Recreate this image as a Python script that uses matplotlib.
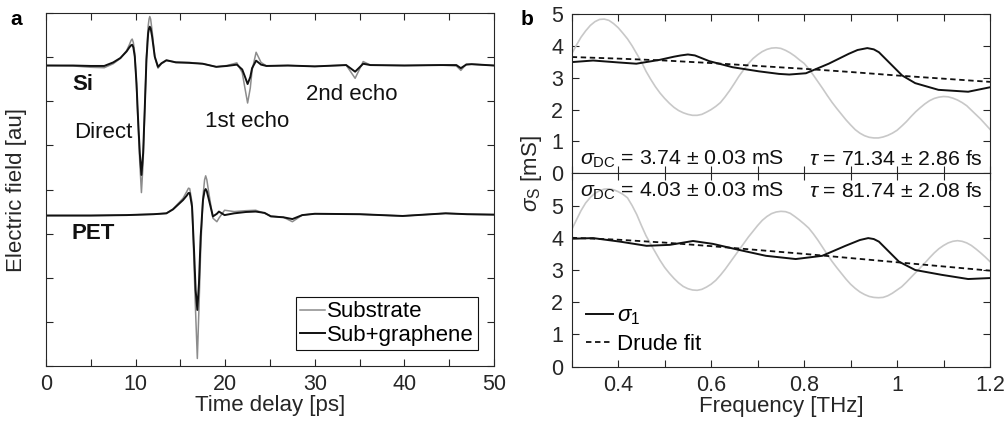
import numpy as np
import matplotlib
matplotlib.use('Agg')
import matplotlib.pyplot as plt

plt.rcParams['font.family'] = ['Liberation Sans', 'DejaVu Sans']
plt.rcParams['mathtext.fontset'] = 'custom'
plt.rcParams['mathtext.rm'] = 'Liberation Sans'
plt.rcParams['mathtext.it'] = 'Liberation Sans:italic'
plt.rcParams['font.size'] = 16
tc = '#262626'

# ---- panel a: time traces (au, stacked) ----
t_si = [0, 3, 5, 6.5, 7.5, 8.3, 9.0, 9.3, 9.5, 9.62, 9.75, 9.91, 10.1, 10.28, 10.47, 10.65, 10.84,
        11.03, 11.21, 11.4, 11.5, 11.58, 11.68, 11.84, 12.14, 12.5, 12.88, 13.44, 14.5, 16, 17.5,
        19.0, 20.2, 21.3, 21.9, 22.2, 22.5, 22.8, 23.0, 23.45, 24.0, 24.6, 27, 30, 33.5, 34.5,
        35.4, 36.2, 40, 44, 45.8, 46.3, 46.9, 47.5, 50]
si_sub = [6.81, 6.80, 6.77, 6.76, 6.85, 6.97, 7.15, 7.28, 7.38, 7.41, 7.33, 7.08, 6.35, 5.45, 4.60,
          3.93, 4.60, 5.85, 7.00, 7.70, 7.86, 7.92, 7.86, 7.60, 7.00, 6.75, 6.85, 6.92, 6.89,
          6.88, 6.85, 6.78, 6.81, 6.87, 6.65, 6.30, 5.96, 6.30, 6.70, 7.11, 6.88, 6.80, 6.81,
          6.79, 6.82, 6.52, 6.90, 6.82, 6.81, 6.82, 6.80, 6.70, 6.84, 6.84, 6.81]
si_gr = [6.81, 6.81, 6.80, 6.80, 6.88, 6.98, 7.13, 7.22, 7.27, 7.28, 7.22, 7.01, 6.41, 5.58, 4.82,
         4.33, 4.82, 5.88, 6.94, 7.54, 7.65, 7.69, 7.65, 7.47, 7.01, 6.78, 6.86, 6.93, 6.88,
         6.87, 6.85, 6.78, 6.80, 6.83, 6.72, 6.56, 6.39, 6.55, 6.75, 6.92, 6.83, 6.80, 6.81,
         6.79, 6.82, 6.67, 6.85, 6.82, 6.81, 6.82, 6.82, 6.75, 6.83, 6.84, 6.81]

t_pet = [0, 5, 9, 12, 13.44, 14.18, 15.29, 15.7, 15.9, 16.04, 16.3, 16.52, 16.7, 16.89, 17.07,
         17.26, 17.52, 17.7, 17.82, 17.95, 18.19, 18.63, 19.07, 19.3, 19.93, 21, 22.3, 23.4,
         24.4, 25.1, 26.5, 27.5, 28.6, 30, 35, 39.8, 44.6, 47, 50]
pet_sub = [3.41, 3.41, 3.42, 3.44, 3.46, 3.56, 3.80, 3.95, 4.03, 4.02, 3.70, 2.30, 1.20, 0.17,
           1.30, 2.60, 3.85, 4.22, 4.31, 4.22, 3.90, 3.35, 3.27, 3.35, 3.53, 3.50, 3.52, 3.53,
           3.46, 3.40, 3.37, 3.27, 3.42, 3.45, 3.44, 3.40, 3.46, 3.44, 3.43]
pet_gr = [3.41, 3.41, 3.42, 3.44, 3.46, 3.55, 3.76, 3.86, 3.92, 3.92, 3.61, 2.63, 1.72, 1.27,
          1.87, 2.93, 3.76, 3.97, 4.01, 3.96, 3.76, 3.39, 3.45, 3.50, 3.42, 3.46, 3.49, 3.50,
          3.47, 3.39, 3.37, 3.33, 3.42, 3.45, 3.44, 3.40, 3.46, 3.44, 3.43]

# ---- panel b: conductivity spectra ----
f1 = [0.30, 0.346, 0.40, 0.439, 0.489, 0.52, 0.535, 0.55, 0.565, 0.596, 0.646, 0.703, 0.746,
      0.768, 0.804, 0.853, 0.896, 0.915, 0.936, 0.95, 0.961, 1.011, 1.039, 1.089, 1.153, 1.20]
s1_top = [3.49, 3.54, 3.48, 3.44, 3.56, 3.66, 3.70, 3.73, 3.70, 3.52, 3.33, 3.20, 3.12,
          3.10, 3.14, 3.44, 3.75, 3.87, 3.93, 3.89, 3.80, 3.07, 2.83, 2.62, 2.56, 2.70]
fg = [0.30, 0.31, 0.32, 0.33, 0.34, 0.35, 0.36, 0.37, 0.38, 0.39, 0.40, 0.41, 0.42, 0.43,
      0.44, 0.45, 0.46, 0.47, 0.48, 0.49, 0.50, 0.51, 0.52, 0.53, 0.54, 0.55, 0.56, 0.57,
      0.58, 0.59, 0.60, 0.61, 0.62, 0.63, 0.64, 0.65, 0.66, 0.67, 0.68, 0.69, 0.70, 0.71,
      0.72, 0.73, 0.74, 0.75, 0.76, 0.77, 0.78, 0.79, 0.80, 0.81, 0.82, 0.83, 0.84, 0.85,
      0.86, 0.87, 0.88, 0.89, 0.90, 0.91, 0.92, 0.93, 0.94, 0.95, 0.96, 0.97, 0.98, 0.99,
      1.00, 1.01, 1.02, 1.03, 1.04, 1.05, 1.06, 1.07, 1.08, 1.09, 1.10, 1.11, 1.12, 1.13,
      1.14, 1.15, 1.16, 1.17, 1.18, 1.19, 1.20]
g1_top = [3.75, 4.02, 4.27, 4.47, 4.64, 4.76, 4.83, 4.84, 4.80, 4.70, 4.57, 4.40, 4.22, 4.00,
          3.75, 3.50, 3.20, 2.95, 2.72, 2.52, 2.35, 2.20, 2.07, 1.97, 1.90, 1.85, 1.82, 1.82,
          1.85, 1.92, 2.00, 2.10, 2.22, 2.40, 2.60, 2.82, 3.05, 3.25, 3.44, 3.60, 3.72, 3.82,
          3.89, 3.93, 3.94, 3.92, 3.86, 3.78, 3.68, 3.56, 3.45, 3.28, 3.08, 2.87, 2.66, 2.44,
          2.23, 2.04, 1.86, 1.68, 1.52, 1.37, 1.26, 1.18, 1.13, 1.11, 1.11, 1.14, 1.19, 1.26,
          1.35, 1.48, 1.62, 1.78, 1.93, 2.06, 2.18, 2.28, 2.35, 2.39, 2.41, 2.40, 2.36, 2.30,
          2.22, 2.12, 1.98, 1.84, 1.70, 1.54, 1.38]
fd = [0.3, 0.4, 0.5, 0.6, 0.7, 0.8, 0.9, 1.0, 1.1, 1.2]
drude_top = [3.65, 3.60, 3.54, 3.46, 3.37, 3.28, 3.18, 3.07, 2.97, 2.87]

f2 = [0.30, 0.346, 0.404, 0.461, 0.511, 0.561, 0.604, 0.661, 0.718, 0.782, 0.839, 0.889,
      0.92, 0.938, 0.95, 0.961, 1.004, 1.039, 1.096, 1.153, 1.20]
s1_bot = [3.97, 3.99, 3.88, 3.75, 3.78, 3.90, 3.81, 3.62, 3.44, 3.34, 3.44, 3.75,
          3.93, 3.99, 3.96, 3.88, 3.26, 3.00, 2.85, 2.72, 2.75]
g2_bot = [4.25, 4.55, 4.84, 5.08, 5.25, 5.38, 5.46, 5.51, 5.52, 5.49, 5.43, 5.35, 5.24, 5.00,
          4.72, 4.38, 4.06, 3.80, 3.55, 3.30, 3.08, 2.90, 2.74, 2.60, 2.49, 2.42, 2.38, 2.37,
          2.40, 2.47, 2.56, 2.68, 2.84, 3.02, 3.22, 3.42, 3.62, 3.82, 4.02, 4.20, 4.38, 4.54,
          4.66, 4.75, 4.80, 4.82, 4.81, 4.76, 4.66, 4.55, 4.43, 4.30, 4.12, 3.92, 3.70, 3.48,
          3.27, 3.08, 2.90, 2.72, 2.56, 2.43, 2.32, 2.24, 2.18, 2.15, 2.14, 2.15, 2.20, 2.28,
          2.38, 2.48, 2.62, 2.77, 2.92, 3.07, 3.22, 3.38, 3.53, 3.66, 3.76, 3.84, 3.89, 3.91,
          3.89, 3.84, 3.76, 3.65, 3.53, 3.40, 3.26]
drude_bot = [4.00, 3.94, 3.85, 3.74, 3.62, 3.50, 3.37, 3.24, 3.11, 2.98]

fig = plt.figure(figsize=(10.06, 4.28), dpi=100)


def style(ax):
    ax.tick_params(direction='in', top=True, right=True, colors=tc, labelsize=15.5,
                   length=5, width=0.8, pad=6)
    ax.tick_params(which='minor', direction='in', top=True, right=True, colors=tc,
                   length=5, width=0.8)
    for s in ax.spines.values():
        s.set_color(tc)
        s.set_linewidth(0.8)


# panel a
axa = fig.add_axes([46 / 1006, 62 / 428, 448 / 1006, 353 / 428])
axa.plot(t_si, si_sub, color='#8c8c8c', lw=1.1, label='Substrate')
axa.plot(t_si, si_gr, color='#111111', lw=1.4, label='Sub+graphene')
axa.plot(t_pet, pet_sub, color='#8c8c8c', lw=1.1)
axa.plot(t_pet, pet_gr, color='#111111', lw=1.4)
axa.set_xlim(0, 50)
axa.set_ylim(0, 8)
axa.set_xticks([0, 10, 20, 30, 40, 50])
axa.set_xticks([5, 15, 25, 35, 45], minor=True)
axa.set_yticks(range(0, 9))
axa.set_yticklabels([])
style(axa)
axa.set_xlabel('Time delay [ps]', color=tc, fontsize=16, labelpad=0)
axa.set_ylabel('Electric field [au]', color=tc, fontsize=16, labelpad=8)
axa.text(2.9, 6.26, 'Si', fontweight='bold', fontsize=16, color='#111111')
axa.text(2.9, 2.88, 'PET', fontweight='bold', fontsize=16, color='#111111')
axa.text(3.1, 5.17, 'Direct', fontsize=16, color='#111111')
axa.text(17.7, 5.42, '1st echo', fontsize=16, color='#111111')
axa.text(29.0, 6.03, '2nd echo', fontsize=16, color='#111111')
leg = axa.legend(loc='lower right', bbox_to_anchor=(0.965, 0.045), fontsize=16,
                 handlelength=1.1, handletextpad=0.1, borderpad=0.2, labelspacing=0.1,
                 fancybox=False, edgecolor='#111111', framealpha=1, borderaxespad=0)
leg.get_frame().set_linewidth(0.8)
fig.text(10 / 1006, 1 - 25 / 428, 'a', fontweight='bold', fontsize=15)

# panel b
l = 571.7 / 1006
w = 418.3 / 1006
axt = fig.add_axes([l, (428 - 173.3) / 428, w, 159.3 / 428])
axb = fig.add_axes([l, (428 - 366.7) / 428, w, 193.4 / 428])

axt.plot(fg, g1_top, color='#c8c8c8', lw=1.2)
axt.plot(f1, s1_top, color='#111111', lw=1.4)
axt.plot(fd, drude_top, color='#111111', lw=1.3, ls=(0, (3, 2)))
axt.set_xlim(0.3, 1.2)
axt.set_ylim(0, 5)
axt.set_yticks(range(0, 6))
axt.set_xticks(np.arange(0.3, 1.21, 0.1))
axt.set_xticklabels([])
style(axt)
axt.text(0.318, 0.26, r'$\sigma_{\rm DC}$ = 3.74 ± 0.03 mS', fontsize=15.3, color='#111111')
axt.text(1.185, 0.26, r'$\tau$ = 71.34 ± 2.86 fs', fontsize=15.3, color='#111111', ha='right')

axb.plot(fg, g2_bot, color='#c8c8c8', lw=1.2)
axb.plot(f2, s1_bot, color='#111111', lw=1.4, label=r'$\sigma_1$')
axb.plot(fd, drude_bot, color='#111111', lw=1.3, ls=(0, (3, 2)), label='Drude fit')
axb.set_xlim(0.3, 1.2)
axb.set_ylim(0, 6)
axb.set_yticks(range(0, 6))
axb.set_xticks(np.arange(0.3, 1.21, 0.1))
axb.set_xticklabels(['', '0.4', '', '0.6', '', '0.8', '', '1', '', '1.2'])
style(axb)
axb.text(0.318, 5.27, r'$\sigma_{\rm DC}$ = 4.03 ± 0.03 mS', fontsize=15.3, color='#111111')
axb.text(1.185, 5.27, r'$\tau$ = 81.74 ± 2.08 fs', fontsize=15.3, color='#111111', ha='right')
axb.set_xlabel('Frequency [THz]', color=tc, fontsize=16, labelpad=0)
axb.legend(loc='lower left', bbox_to_anchor=(0.035, 0.06), fontsize=16, frameon=False,
           handlelength=1.2, handletextpad=0.2, labelspacing=0.3, borderaxespad=0,
           borderpad=0)
fig.text(531 / 1006, 1 - 174 / 428, r'$\sigma_{\rm S}$ [mS]', rotation=90, fontsize=16,
         color=tc, ha='center', va='center')
fig.text(521 / 1006, 1 - 25 / 428, 'b', fontweight='bold', fontsize=15)

fig.savefig('out.png', dpi=100)
